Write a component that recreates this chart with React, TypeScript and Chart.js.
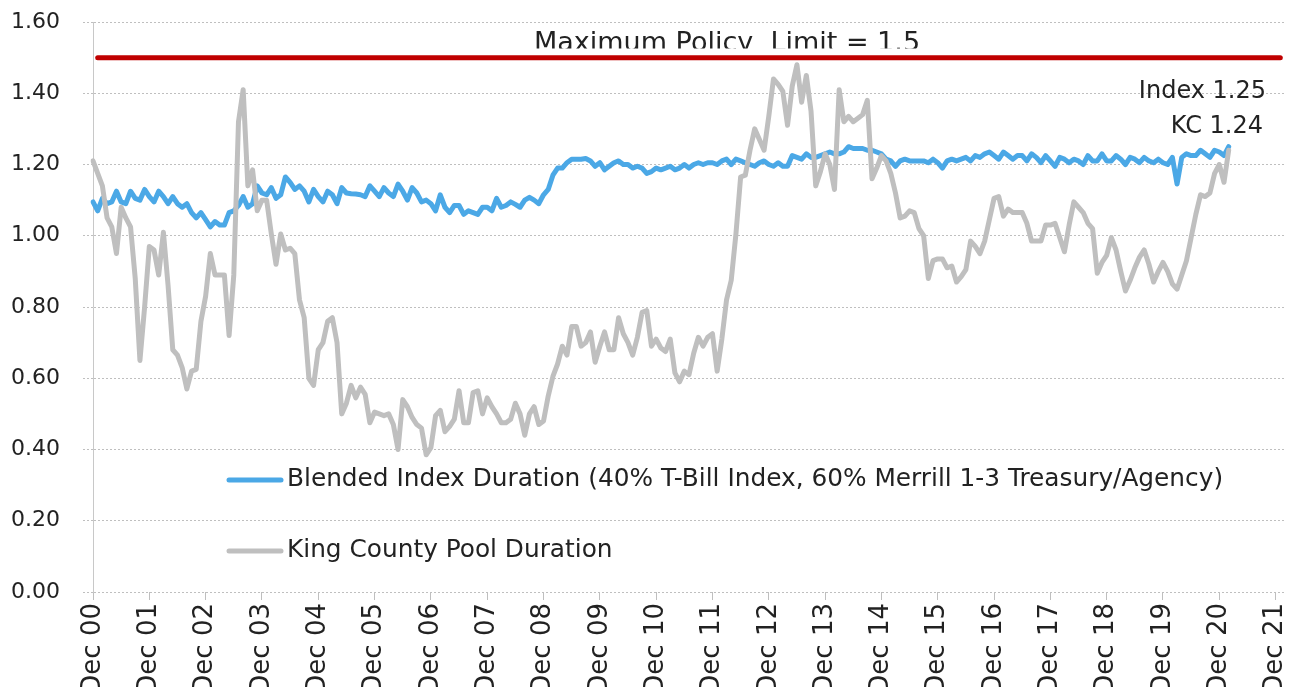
import { useEffect, useRef } from "react";
import { Chart, registerables } from "chart.js";

Chart.register(...registerables);

// Year tick labels (one every 12 months, starting Dec 2000)
const YEAR_TICKS = [
  "Dec 00", "Dec 01", "Dec 02", "Dec 03", "Dec 04", "Dec 05", "Dec 06", "Dec 07",
  "Dec 08", "Dec 09", "Dec 10", "Dec 11", "Dec 12", "Dec 13", "Dec 14", "Dec 15",
  "Dec 16", "Dec 17", "Dec 18", "Dec 19", "Dec 20", "Dec 21",
];
const MONTHS_PER_TICK = 12;
const AXIS_MONTHS = 255; // Dec 00 .. Feb 22 (axis extent)

// King County Pool Duration, monthly from Dec 2000
const KC_DURATION = [
  1.21, 1.175, 1.14, 1.05, 1.025, 0.95, 1.08, 1.05, 1.025, 0.88,
  0.65, 0.80, 0.97, 0.96, 0.89, 1.01, 0.86, 0.68, 0.665, 0.63,
  0.57, 0.62, 0.625, 0.76, 0.83, 0.95, 0.89, 0.89, 0.89, 0.72,
  0.89, 1.32, 1.41, 1.14, 1.185, 1.07, 1.10, 1.10, 1.005, 0.92,
  1.005, 0.96, 0.965, 0.95, 0.82, 0.77, 0.60, 0.58, 0.68, 0.70,
  0.76, 0.77, 0.70, 0.50, 0.53, 0.58, 0.545, 0.575, 0.555, 0.475,
  0.505, 0.50, 0.495, 0.50, 0.47, 0.40, 0.54, 0.52, 0.49, 0.47,
  0.46, 0.385, 0.405, 0.495, 0.51, 0.45, 0.465, 0.485, 0.565, 0.475,
  0.475, 0.56, 0.565, 0.50, 0.545, 0.52, 0.50, 0.475, 0.475, 0.485,
  0.53, 0.50, 0.44, 0.50, 0.52, 0.47, 0.48, 0.55, 0.605, 0.64,
  0.69, 0.665, 0.745, 0.745, 0.69, 0.70, 0.73, 0.645, 0.69, 0.73,
  0.68, 0.68, 0.77, 0.725, 0.70, 0.665, 0.715, 0.785, 0.79, 0.69,
  0.71, 0.685, 0.675, 0.71, 0.615, 0.59, 0.62, 0.61, 0.67, 0.715,
  0.69, 0.715, 0.725, 0.62, 0.71, 0.82, 0.875, 1.005, 1.165, 1.17,
  1.24, 1.30, 1.27, 1.24, 1.335, 1.44, 1.425, 1.405, 1.31, 1.42,
  1.48, 1.375, 1.45, 1.35, 1.14, 1.18, 1.23, 1.20, 1.13, 1.41,
  1.32, 1.335, 1.32, 1.33, 1.34, 1.38, 1.16, 1.19, 1.225, 1.21,
  1.175, 1.12, 1.05, 1.055, 1.07, 1.065, 1.02, 1.00, 0.88, 0.93,
  0.935, 0.935, 0.91, 0.915, 0.87, 0.885, 0.905, 0.985, 0.97, 0.95,
  0.985, 1.045, 1.105, 1.11, 1.055, 1.075, 1.065, 1.065, 1.065, 1.035,
  0.985, 0.985, 0.985, 1.03, 1.03, 1.035, 0.995, 0.955, 1.03, 1.095,
  1.08, 1.065, 1.035, 1.02, 0.895, 0.925, 0.945, 0.995, 0.96, 0.90,
  0.845, 0.875, 0.91, 0.94, 0.96, 0.92, 0.87, 0.90, 0.925, 0.90,
  0.865, 0.85, 0.89, 0.93, 0.995, 1.06, 1.115, 1.11, 1.12, 1.175,
  1.20, 1.15, 1.24,
];

// Blended Index Duration, monthly from Dec 2000
const INDEX_DURATION = [
  1.095, 1.07, 1.105, 1.09, 1.095, 1.125, 1.095, 1.09, 1.125, 1.105,
  1.10, 1.13, 1.11, 1.095, 1.125, 1.11, 1.09, 1.11, 1.09, 1.08,
  1.09, 1.065, 1.05, 1.065, 1.045, 1.025, 1.04, 1.03, 1.03, 1.065,
  1.07, 1.085, 1.11, 1.08, 1.09, 1.14, 1.12, 1.115, 1.135, 1.105,
  1.115, 1.165, 1.15, 1.13, 1.14, 1.125, 1.095, 1.13, 1.11, 1.095,
  1.125, 1.115, 1.09, 1.135, 1.12, 1.118, 1.117, 1.115, 1.11, 1.14,
  1.125, 1.11, 1.135, 1.12, 1.11, 1.145, 1.125, 1.10, 1.135, 1.12,
  1.095, 1.10, 1.09, 1.07, 1.115, 1.08, 1.065, 1.085, 1.085, 1.06,
  1.07, 1.065, 1.06, 1.08, 1.08, 1.07, 1.105, 1.08, 1.085, 1.095,
  1.088, 1.08, 1.10, 1.108, 1.10, 1.09, 1.115, 1.13, 1.17, 1.19,
  1.19, 1.205, 1.215, 1.215, 1.215, 1.217, 1.21, 1.195, 1.205, 1.185,
  1.195, 1.205, 1.21, 1.20, 1.20, 1.19, 1.195, 1.19, 1.175, 1.18,
  1.19, 1.185, 1.19, 1.195, 1.185, 1.19, 1.20, 1.19, 1.20, 1.205,
  1.20, 1.205, 1.205, 1.20, 1.21, 1.215, 1.20, 1.215, 1.21, 1.205,
  1.20, 1.195, 1.205, 1.21, 1.20, 1.195, 1.205, 1.195, 1.195, 1.225,
  1.22, 1.215, 1.23, 1.22, 1.22, 1.225, 1.23, 1.235, 1.23, 1.23,
  1.235, 1.25, 1.245, 1.245, 1.245, 1.24, 1.24, 1.235, 1.23, 1.215,
  1.21, 1.195, 1.21, 1.215, 1.21, 1.21, 1.21, 1.21, 1.205, 1.215,
  1.205, 1.19, 1.21, 1.215, 1.21, 1.215, 1.22, 1.21, 1.225, 1.22,
  1.23, 1.235, 1.225, 1.215, 1.235, 1.225, 1.215, 1.225, 1.225, 1.21,
  1.23, 1.22, 1.205, 1.225, 1.21, 1.195, 1.22, 1.215, 1.205, 1.215,
  1.21, 1.20, 1.225, 1.21, 1.21, 1.23, 1.21, 1.21, 1.225, 1.215,
  1.20, 1.22, 1.215, 1.205, 1.22, 1.21, 1.205, 1.215, 1.205, 1.20,
  1.22, 1.145, 1.22, 1.23, 1.225, 1.225, 1.24, 1.23, 1.22, 1.24,
  1.235, 1.225, 1.25,
];

const POLICY_LIMIT = 1.5;
const POLICY_START = 1; // month index where the limit line starts
const POLICY_END = 253; // month index where it ends

const Y_MIN = 0;
const Y_MAX = 1.6;
const Y_STEP = 0.2;

const TITLE_TEXT = "Maximum Policy  Limit = 1.5";
const END_LABELS = ["Index 1.25", "KC 1.24"];
const SERIES_NAMES = [
  "Blended Index Duration (40% T-Bill Index, 60% Merrill 1-3 Treasury/Agency)",
  "King County Pool Duration",
];

const BLUE = "#4ba8e6";
const GREY = "#bfbfbf";
const RED = "#c00000";
const TEXT = "#222222";
const FONT = "'DejaVu Sans', sans-serif";

export default function App() {
  const ref = useRef<HTMLCanvasElement | null>(null);

  useEffect(() => {
    const canvas = ref.current;
    if (!canvas) return;

    const labels = Array.from({ length: AXIS_MONTHS }, (_, i) =>
      i % MONTHS_PER_TICK === 0 ? YEAR_TICKS[i / MONTHS_PER_TICK] ?? "" : ""
    );
    const policy = labels.map((_, i) =>
      i >= POLICY_START && i <= POLICY_END ? POLICY_LIMIT : null
    );

    const overlay = {
      id: "overlay",
      afterDraw(chart: any) {
        const { ctx, chartArea } = chart;
        ctx.save();
        // Title above the policy line (bottom clipped like the reference)
        ctx.save();
        ctx.beginPath();
        ctx.rect(chartArea.left, 0, chartArea.right - chartArea.left, 48.5);
        ctx.clip();
        ctx.font = `27px ${FONT}`;
        ctx.fillStyle = TEXT;
        ctx.textAlign = "center";
        ctx.textBaseline = "alphabetic";
        ctx.fillText(TITLE_TEXT, 727, 51);
        ctx.restore();

        // End-value labels
        ctx.font = `24px ${FONT}`;
        ctx.fillStyle = TEXT;
        ctx.textAlign = "right";
        ctx.textBaseline = "middle";
        ctx.fillText(END_LABELS[0], 1266, 92);
        ctx.fillText(END_LABELS[1], 1263, 127);

        // Legend inside the plot
        ctx.font = `24.8px ${FONT}`;
        const colors = [BLUE, GREY];
        const ys = [480, 551];
        for (let i = 0; i < 2; i++) {
          ctx.strokeStyle = colors[i];
          ctx.lineWidth = 5;
          ctx.lineCap = "round";
          ctx.beginPath();
          ctx.moveTo(229, ys[i]);
          ctx.lineTo(281, ys[i]);
          ctx.stroke();
          ctx.textAlign = "left";
          ctx.fillText(SERIES_NAMES[i], 287, ys[i]);
        }
        ctx.restore();
      },
    };

    const chart = new Chart(canvas, {
      type: "line",
      data: {
        labels,
        datasets: [
          {
            label: SERIES_NAMES[1],
            data: KC_DURATION,
            borderColor: GREY,
            borderWidth: 5,
            pointRadius: 0,
            tension: 0,
            borderJoinStyle: "round",
            borderCapStyle: "round",
            order: 1,
          },
          {
            label: SERIES_NAMES[0],
            data: INDEX_DURATION,
            borderColor: BLUE,
            borderWidth: 5,
            pointRadius: 0,
            tension: 0,
            borderJoinStyle: "round",
            borderCapStyle: "round",
            order: 2,
          },
          {
            label: "Maximum Policy Limit",
            data: policy,
            borderColor: RED,
            borderWidth: 5,
            pointRadius: 0,
            tension: 0,
            borderCapStyle: "round",
            spanGaps: false,
            order: 0,
          },
        ],
      },
      options: {
        animation: false,
        responsive: false,
        maintainAspectRatio: false,
        layout: { padding: { left: 0, top: 22, right: 15, bottom: 0 } },
        plugins: {
          legend: { display: false },
          tooltip: { enabled: false },
          title: { display: false },
        },
        scales: {
          x: {
            type: "category",
            afterFit: (s: any) => {
              s.height = 95;
              s.paddingLeft = 0;
              s.paddingRight = 0;
            },
            grid: {
              drawOnChartArea: false,
              drawTicks: true,
              tickLength: 8,
              color: GREY,
            },
            border: { display: false },
            ticks: {
              autoSkip: false,
              minRotation: 90,
              maxRotation: 90,
              padding: 3,
              color: TEXT,
              font: { family: FONT, size: 26 },
              callback: function (this: any, value: any) {
                const l = this.getLabelForValue(value);
                return l === "" ? null : l;
              },
            },
          },
          y: {
            min: Y_MIN,
            max: Y_MAX,
            afterFit: (s: any) => {
              s.width = 93;
              s.paddingTop = 0;
              s.paddingBottom = 0;
            },
            grid: {
              color: GREY,
              tickLength: 10,
              tickBorderDash: [2, 2],
            },
            border: { display: true, color: "#c8c8c8", dash: [2, 2] },
            ticks: {
              stepSize: Y_STEP,
              padding: 23,
              color: TEXT,
              font: { family: FONT, size: 22 },
              callback: (v: any) => Number(v).toFixed(2),
            },
          },
        },
      },
      plugins: [overlay],
    } as any);

    return () => chart.destroy();
  }, []);

  return (
    <div style={{ position: "fixed", left: 0, top: 0, width: 1300, height: 687, background: "#fff" }}>
      <canvas ref={ref} width={1300} height={687} style={{ display: "block" }} />
    </div>
  );
}
